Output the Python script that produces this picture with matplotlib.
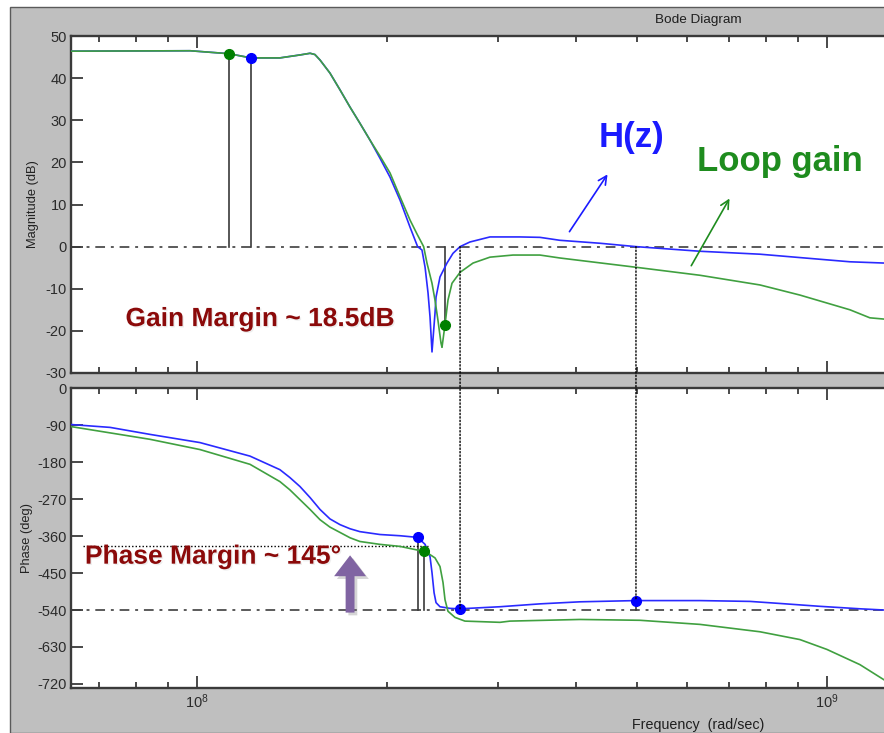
import math
import matplotlib
matplotlib.use("Agg")
import matplotlib.pyplot as plt
from matplotlib.patches import Rectangle, ConnectionPatch
from matplotlib.ticker import LogLocator, FuncFormatter, NullFormatter
import matplotlib.patheffects as pe

plt.rcParams['font.family'] = ['Liberation Sans', 'DejaVu Sans']
plt.rcParams['mathtext.fontset'] = 'custom'
plt.rcParams['mathtext.rm'] = 'Liberation Sans'
plt.rcParams['mathtext.it'] = 'Liberation Sans'
plt.rcParams['axes.unicode_minus'] = False

# ---- magnitude data (rad/s, dB) ----
mag_h_freq = [6.31e7, 9.75e7, 1.124e8, 1.218e8, 1.354e8, 1.457e8, 1.512e8, 1.539e8,
              1.568e8, 1.626e8, 1.687e8, 1.750e8, 1.814e8, 1.882e8, 1.952e8, 2.025e8,
              2.101e8, 2.179e8, 2.240e8, 2.276e8, 2.302e8, 2.327e8, 2.344e8, 2.361e8,
              2.387e8, 2.396e8, 2.431e8, 2.494e8, 2.549e8, 2.616e8, 2.712e8, 2.918e8,
              3.256e8, 3.503e8, 3.769e8, 4.363e8, 4.976e8, 6.287e8, 7.830e8, 9.06e8,
              1.088e9, 1.232e9]
mag_h_db = [46.4, 46.5, 45.8, 44.8, 44.8, 45.5, 45.9, 45.6,
            44.3, 41.2, 37.2, 33.1, 29.3, 25.3, 21.0, 16.5,
            11.0, 4.6, 0.0, -0.8, -4.9, -11.0, -16.7, -25.0,
            -15.8, -12.0, -7.2, -3.9, -1.6, 0.0, 1.1, 2.3,
            2.3, 2.2, 1.5, 0.8, 0.0, -1.1, -1.8, -2.6,
            -3.6, -3.9]

mag_l_freq = [6.31e7, 9.75e7, 1.124e8, 1.218e8, 1.354e8, 1.457e8, 1.512e8, 1.539e8,
              1.568e8, 1.626e8, 1.687e8, 1.750e8, 1.814e8, 1.882e8, 1.952e8, 2.025e8,
              2.101e8, 2.179e8, 2.235e8, 2.290e8, 2.318e8, 2.361e8, 2.387e8, 2.413e8,
              2.440e8, 2.449e8, 2.476e8, 2.503e8, 2.540e8, 2.616e8, 2.743e8, 2.918e8,
              3.174e8, 3.503e8, 3.769e8, 4.976e8, 6.287e8, 7.830e8, 9.06e8, 1.088e9,
              1.170e9, 1.232e9]
mag_l_db = [46.4, 46.5, 45.8, 44.8, 44.8, 45.5, 45.9, 45.6,
            44.3, 41.2, 37.2, 33.1, 29.3, 25.3, 21.5, 17.5,
            11.8, 6.3, 3.0, 0.0, -3.9, -8.7, -12.7, -17.5,
            -22.9, -23.9, -18.5, -12.7, -8.7, -6.1, -3.9, -2.5,
            -2.0, -2.0, -2.7, -4.9, -6.8, -9.1, -11.5, -15.0,
            -16.9, -17.2]

# ---- phase data (rad/s, deg) ----
ph_h_freq = [6.31e7, 7.28e7, 8.42e7, 1.011e8, 1.214e8, 1.354e8, 1.404e8, 1.457e8,
             1.512e8, 1.568e8, 1.626e8, 1.687e8, 1.750e8, 1.814e8, 1.952e8, 2.101e8,
             2.240e8, 2.302e8, 2.344e8, 2.361e8, 2.379e8, 2.396e8, 2.431e8, 2.522e8,
             2.616e8, 3.027e8, 3.503e8, 4.055e8, 4.976e8, 6.287e8, 7.549e8, 8.42e8,
             9.75e8, 1.128e9, 1.232e9]
ph_h_deg = [-88, -95, -112, -132, -165, -198, -217, -239,
            -266, -295, -318, -332, -342, -349, -356, -359,
            -363, -380, -410, -449, -498, -522, -532, -536,
            -537, -532, -525, -520, -517, -517, -519, -524,
            -531, -537, -540]

ph_l_freq = [6.31e7, 8.42e7, 1.011e8, 1.214e8, 1.354e8, 1.404e8, 1.457e8, 1.512e8,
             1.568e8, 1.626e8, 1.687e8, 1.750e8, 1.814e8, 1.952e8, 2.101e8, 2.290e8,
             2.344e8, 2.387e8, 2.431e8, 2.458e8, 2.476e8, 2.503e8, 2.568e8, 2.663e8,
             3.027e8, 3.139e8, 4.055e8, 5.049e8, 6.287e8, 7.830e8, 9.06e8, 1.0e9,
             1.128e9, 1.232e9]
ph_l_deg = [-93, -124, -149, -185, -227, -247, -271, -295,
            -320, -338, -351, -364, -373, -380, -385, -397,
            -405, -413, -434, -473, -515, -543, -558, -567,
            -570, -567, -563, -565, -575, -593, -612, -636,
            -673, -710]

# ---- margin markers ----
gm_freq = [1.124e8, 1.218e8, 2.476e8]
gm_db = [45.7, 44.8, -18.5]
gm_color = ['#008000', '#0000ff', '#008000']
pm_freq = [2.240e8, 2.290e8, 2.616e8, 4.976e8]
pm_deg = [-363, -397, -537, -517]
pm_color = ['#0000ff', '#008000', '#0000ff', '#0000ff']
pm_level = -383

BLUE = '#2a2aff'
GREEN = '#40a040'
AXC = '#3a3a3a'

fig = plt.figure(figsize=(8.84, 7.33), dpi=100, facecolor='white')
W, H = 884.0, 733.0
fig.patches.append(Rectangle((10 / W, 0), 1, 1 - 7 / H, transform=fig.transFigure,
                             facecolor='#bfbfbf', edgecolor='#5a5a5a', lw=1.0, zorder=-10))

xlim = (6.31e7, 1.232e9)
ax1 = fig.add_axes([71 / W, 1 - 373 / H, 1 - 71 / W, 337 / H])
ax2 = fig.add_axes([71 / W, 1 - 688 / H, 1 - 71 / W, 300 / H])

for ax in (ax1, ax2):
    ax.set_facecolor('white')
    ax.set_xscale('log')
    ax.set_xlim(*xlim)
    ax.spines['right'].set_visible(False)
    for s in ('left', 'top', 'bottom'):
        ax.spines[s].set_color(AXC)
        ax.spines[s].set_linewidth(1.7)
    ax.xaxis.set_major_locator(LogLocator(base=10))
    ax.xaxis.set_minor_locator(LogLocator(base=10, subs=range(2, 10)))
    ax.xaxis.set_minor_formatter(NullFormatter())
    ax.tick_params(which='both', direction='in', top=True, bottom=True, left=True,
                   right=False, color=AXC, labelcolor='#2b2b2b', labelsize=10.5, pad=3)
    ax.tick_params(which='major', length=8.5, width=1.3)
    ax.tick_params(which='minor', length=4.5, width=1.3)

ax1.tick_params(labelbottom=False)
ax2.xaxis.set_major_formatter(FuncFormatter(lambda v, p: r'$10^{%d}$' % round(math.log10(v))))

ax1.set_ylim(-30, 50)
ax1.set_yticks(range(-30, 51, 10))
ax2.set_ylim(-730, 1)
ax2.set_yticks(range(-720, 1, 90))

# reference levels
dashdot = (0, (5, 3, 1.5, 3))
ax1.axhline(0, color='#5a5a5a', ls=dashdot, lw=1.4, zorder=1)
ax2.axhline(-540, color='#5a5a5a', ls=dashdot, lw=1.4, zorder=1)

# curves
ax1.plot(mag_h_freq, mag_h_db, color=BLUE, lw=1.2, zorder=3)
ax1.plot(mag_l_freq, mag_l_db, color=GREEN, lw=1.2, zorder=3)
ax2.plot(ph_h_freq, ph_h_deg, color=BLUE, lw=1.2, zorder=3)
ax2.plot(ph_l_freq, ph_l_deg, color=GREEN, lw=1.2, zorder=3)

# gain-margin stems
for f, v, c in zip(gm_freq, gm_db, gm_color):
    ax1.plot([f, f], [0, v], color=AXC, lw=1.2, zorder=2)
    ax1.plot(f, v, 'o', color=c, ms=7, zorder=5)

# phase-margin stems
for f, v, c in zip(pm_freq, pm_deg, pm_color):
    ax2.plot([f, f], [-540, v], color=AXC, lw=1.2, zorder=2)
    ax2.plot(f, v, 'o', color=c, ms=7, zorder=5)

# dotted links from the 0 dB crossings down to the phase plot
for f, v in zip(pm_freq[2:], pm_deg[2:]):
    con = ConnectionPatch(xyA=(f, 0), coordsA=ax1.transData, xyB=(f, v), coordsB=ax2.transData,
                          color='black', lw=1.0, ls=(0, (1, 1.5)), zorder=6)
    fig.add_artist(con)

ax2.plot([6.6e7, 2.33e8], [pm_level, pm_level], color='black', lw=1.0, ls=(0, (1, 1.5)), zorder=2)

# labels
ax1.set_ylabel('Magnitude (dB)', fontsize=9.3, color='#222222', labelpad=5)
ax2.set_ylabel('Phase (deg)', fontsize=9.3, color='#222222', labelpad=3)
fig.text(698 / W, 1 - 20 / H, 'Bode Diagram', ha='center', va='center', fontsize=9.7, color='#1e1e1e')
fig.text(698 / W, 1 - 725 / H, 'Frequency  (rad/sec)', ha='center', va='center', fontsize=10.3,
         color='#1e1e1e')

# annotations
RED = '#8b0a0a'
soft = [pe.withSimplePatchShadow(offset=(1, -1), shadow_rgbFace='#aaaaaa', alpha=0.2)]
ax1.text(1.259e8, -17.2, 'Gain Margin ~ 18.5dB', color=RED, fontsize=19, fontweight='bold',
         ha='center', va='center', zorder=7, path_effects=soft)
ax2.text(1.06e8, -410, 'Phase Margin ~ 145°', color=RED, fontsize=19, fontweight='bold',
         ha='center', va='center', zorder=7, path_effects=soft)
ax1.text(4.89e8, 26.0, 'H(z)', color='#1a1aff', fontsize=25, fontweight='bold',
         ha='center', va='center', zorder=7)
ax1.text(8.42e8, 20.1, 'Loop gain', color='#1e8c1e', fontsize=25, fontweight='bold',
         ha='center', va='center', zorder=7)
ax1.annotate('', xy=(4.51e8, 17.7), xytext=(3.88e8, 3.0),
             arrowprops=dict(arrowstyle='->,head_length=0.6,head_width=0.3', color='#1a1aff', lw=1.2))
ax1.annotate('', xy=(7.04e8, 12.0), xytext=(6.06e8, -5.1),
             arrowprops=dict(arrowstyle='->,head_length=0.6,head_width=0.3', color='#1e8c1e', lw=1.2))
ax2.annotate('', xy=(1.75e8, -400), xytext=(1.75e8, -553),
             arrowprops=dict(arrowstyle='simple,head_width=1.15,head_length=0.75,tail_width=0.32',
                             mutation_scale=20, color='#8064a2', lw=0,
                             path_effects=[pe.withSimplePatchShadow(offset=(2, -2),
                                                                     shadow_rgbFace='#777777',
                                                                     alpha=0.3)]))

fig.savefig('out.png', dpi=100, facecolor='white')
